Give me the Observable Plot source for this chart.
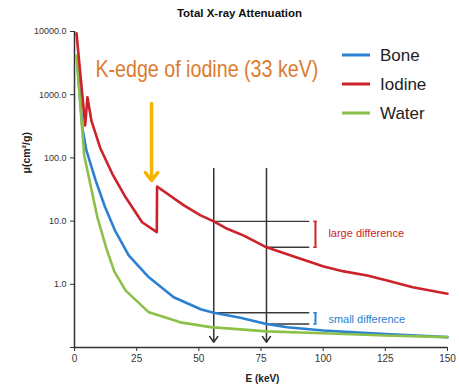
<!DOCTYPE html>
<html><head><meta charset="utf-8">
<script src="https://cdn.jsdelivr.net/npm/d3@7"></script>
<script src="https://cdn.jsdelivr.net/npm/@observablehq/plot@0.6"></script>
<style>
body{margin:0;background:#fff;}
#wrap{position:relative;width:459px;height:385px;}
</style></head><body><div id="wrap"></div>
<script>
// ---- texts & ticks
const title = "Total X-ray Attenuation";
const xLabel = "E (keV)";
const yLabel = "μ(cm²/g)";
const xTicks = [0, 25, 50, 75, 100, 125, 150];
const yTicks = [0.1, 1, 10, 100, 1000, 10000];
const seriesNames = ["Bone", "Iodine", "Water"];
const seriesColors = ["#2b80d1", "#cc2229", "#8dc04a"];

// ---- series (energy keV, mass attenuation cm²/g)
const boneE  = [1, 3.2, 4.8, 8.5, 12.2, 16.2, 21.8, 29.9, 39.9, 51, 56, 66.7, 77.2, 85.5, 100, 125, 150];
const boneMu = [3700, 288, 131, 44, 17, 7.2, 2.86, 1.29, 0.625, 0.40, 0.355, 0.295, 0.235, 0.209, 0.186, 0.163, 0.146];
const iodineE  = [0.8, 4.3, 5.2, 6.8, 10.3, 15.2, 20.5, 27.2, 33.1, 33.2, 44, 50.7, 56, 61.4, 68.1, 77.2, 90.9, 100.2, 108.3, 117.7, 125.7, 136, 150];
const iodineMu = [9400, 326, 912, 390, 145, 56, 24, 9.6, 6.7, 35.3, 17.7, 12.3, 9.9, 7.55, 5.9, 3.85, 2.53, 1.91, 1.6, 1.38, 1.15, 0.9, 0.71];
const waterE  = [0.8, 3.9, 6.2, 9.2, 13, 16, 20.5, 29.9, 42.6, 54.7, 77.2, 100, 125, 150];
const waterMu = [4170, 109, 41, 11.5, 3.5, 1.6, 0.8, 0.36, 0.25, 0.21, 0.18, 0.168, 0.155, 0.146];

// ---- annotations
const kEdgeLabel = "K-edge of iodine (33 keV)";
const kEdgeLabelPos = {E: 8.4, mu: 2500};
const kEdgeArrow = {E: 31, muTop: 724, muTip: 43.9};
const probeE = [56, 77.2];
const probeTop = 68, probeBottom = 0.121;
const redLevels = [9.9, 3.85];
const blueLevels = [0.355, 0.235];
const levelEnd = 94.6;
const bracketE = 96.9;
const diffLabels = ["large difference", "small difference"];
const diffLabelPos = [{E: 102.1, mu: 6.3}, {E: 102.1, mu: 0.277}];

const rows = (name, E, M) => E.map((e, i) => ({name, E: e, mu: M[i]}));
const bone = rows("Bone", boneE, boneMu);
const iodine = rows("Iodine", iodineE, iodineMu);
const water = rows("Water", waterE, waterMu);

const red = seriesColors[1], blue = seriesColors[0];
const levelLines = [
  ...redLevels.map((v, i) => ({x1: probeE[i], x2: levelEnd, y: v})),
  ...blueLevels.map((v, i) => ({x1: probeE[i], x2: levelEnd, y: v}))
];
const brackets = [
  {y1: redLevels[0], y2: redLevels[1], c: red},
  {y1: blueLevels[0], y2: blueLevels[1], c: blue}
];
const serifs = brackets.flatMap(b => [{y: b.y1, c: b.c}, {y: b.y2, c: b.c}]);

const font = "'Liberation Sans', Arial, sans-serif";
const lineOpts = () => ({x: "E", y: "mu", stroke: "name", strokeWidth: 2.6, strokeLinejoin: "round"});

const chart = Plot.plot({
  width: 459, height: 385,
  marginLeft: 74, marginRight: 12, marginTop: 31, marginBottom: 38,
  style: {fontFamily: font, background: "#fff", color: "#222"},
  x: {domain: [0, 150]},
  y: {type: "log", domain: [0.1, 10000]},
  color: {domain: seriesNames, range: seriesColors},
  marks: [
    Plot.axisX({ticks: xTicks, tickSize: 4, tickPadding: 3, fontSize: 10, label: null, color: "#333"}),
    Plot.axisY({ticks: yTicks, tickFormat: d => d < 1 ? "" : d.toFixed(1), tickSize: 4, tickPadding: 4, fontSize: 9, label: null, color: "#333"}),
    Plot.ruleX([0], {stroke: "#333", strokeWidth: 1.5}),
    Plot.ruleY([0.1], {stroke: "#333", strokeWidth: 1.5}),
    // reference lines
    Plot.ruleY(levelLines, {x1: "x1", x2: "x2", y: "y", stroke: "#3a3a3a", strokeWidth: 1.4}),
    Plot.arrow(probeE, {x1: d => d, x2: d => d, y1: () => probeTop, y2: () => probeBottom, stroke: "#333", strokeWidth: 1.5, headLength: 7, headAngle: 70}),
    // curves
    Plot.line(bone, lineOpts()),
    Plot.line(water, lineOpts()),
    Plot.line(iodine, lineOpts()),
    // brackets
    Plot.ruleX(brackets, {x: () => bracketE, y1: "y1", y2: "y2", stroke: "c", strokeWidth: 2}),
    Plot.ruleY(serifs, {x1: () => bracketE - 0.7, x2: () => bracketE + 0.7, y: "y", stroke: "c", strokeWidth: 1.5}),
    Plot.text(diffLabels, {x: (d, i) => diffLabelPos[i].E, y: (d, i) => diffLabelPos[i].mu, text: d => d, fill: (d, i) => i === 0 ? red : blue, textAnchor: "start", fontSize: 11}),
    // K-edge
    Plot.arrow([kEdgeArrow], {x1: "E", x2: "E", y1: "muTop", y2: "muTip", stroke: "#f5b400", strokeWidth: 3.5, headLength: 4.3, headAngle: 76}),
    Plot.text([kEdgeLabel], {x: () => kEdgeLabelPos.E, y: () => kEdgeLabelPos.mu, text: d => d, textAnchor: "start", fontSize: 24, fill: "#dd7b2e", className: "kedge"}),
    // titles
    Plot.text([title], {frameAnchor: "top", lineAnchor: "middle", dx: -21.5, dy: -18, fontWeight: "bold", fontSize: 11.5, fill: "#111"}),
    Plot.text([xLabel], {frameAnchor: "bottom", lineAnchor: "middle", dx: 1.5, dy: 31, fontWeight: "bold", fontSize: 10, fill: "#222"}),
    Plot.text([yLabel], {frameAnchor: "left", lineAnchor: "middle", rotate: -90, dx: -48, dy: -16, fontWeight: "bold", fontSize: 10.5, fill: "#222"})
  ]
});
document.getElementById("wrap").appendChild(chart);

// narrow the K-edge label to the condensed width of the original
d3.select(chart).selectAll("text").filter(function() { return this.textContent === kEdgeLabel; })
  .attr("textLength", 223).attr("lengthAdjust", "spacingAndGlyphs");

// legend
const svg = d3.select(chart);
const lg = svg.append("g").attr("font-family", font).attr("font-size", 17).attr("fill", "#222").attr("text-anchor", "start");
seriesNames.forEach((n, i) => {
  const y = 55 + i * 29;
  lg.append("line").attr("x1", 342).attr("x2", 370).attr("y1", y).attr("y2", y)
    .attr("stroke", seriesColors[i]).attr("stroke-width", 3);
  lg.append("text").attr("x", 380).attr("y", y).attr("dy", "0.35em").attr("text-anchor", "start").text(n);
});
</script></body></html>
